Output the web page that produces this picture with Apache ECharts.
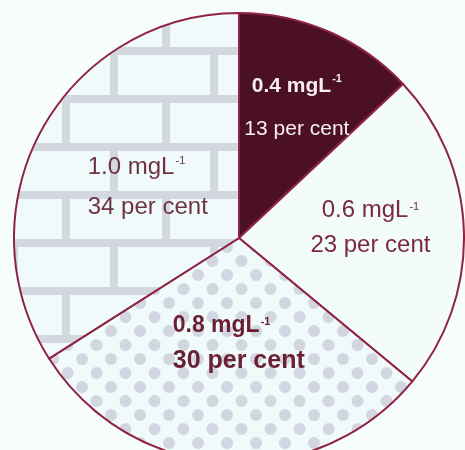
<!DOCTYPE html>
<html>
<head>
<meta charset="utf-8">
<script src="https://cdn.jsdelivr.net/npm/echarts@6/dist/echarts.min.js"></script>
<style>
  html, body { margin: 0; padding: 0; background: #f7fcfc; }
  #main { width: 465px; height: 450px; }
</style>
</head>
<body>
<div id="main"></div>
<script>
// slice data, clockwise from 12 o'clock
var doses = ['0.4', '0.6', '0.8', '1.0'];
var percents = [13, 23, 30, 34];
var unit = 'mgL';
var sup = '-1';

// brick fill tile
function brickTile() {
  var c = document.createElement('canvas');
  c.width = 100; c.height = 96;
  var g = c.getContext('2d');
  g.fillStyle = '#f0fafa';
  g.fillRect(0, 0, 100, 96);
  g.fillStyle = '#d3d7e0';
  g.fillRect(0, 47, 100, 8);
  g.fillRect(0, 95, 100, 1);
  g.fillRect(0, 0, 100, 7);
  g.fillRect(10, 55, 8, 40);
  g.fillRect(62, 7, 8, 40);
  return c;
}

// dotted fill tile
function dotTile() {
  var c = document.createElement('canvas');
  c.width = 29; c.height = 28;
  var g = c.getContext('2d');
  g.fillStyle = '#f0fafa';
  g.fillRect(0, 0, 29, 28);
  g.fillStyle = '#d2d6e0';
  var pts = [[24, 23], [9.5, 9]];
  for (var k = 0; k < pts.length; k++) {
    for (var i = -1; i <= 1; i++) {
      for (var j = -1; j <= 1; j++) {
        g.beginPath();
        g.arc(pts[k][0] + i * 29, pts[k][1] + j * 28, 6, 0, Math.PI * 2);
        g.fill();
      }
    }
  }
  return c;
}

var fills = [
  '#4b1122',
  '#f3fbfb',
  { image: dotTile(), repeat: 'repeat' },
  { image: brickTile(), repeat: 'repeat' }
];
var textColors = ['#f6eef0', '#7a2a3e', '#6a1f34', '#6c3442'];
var firstWeight = ['bold', 'normal', 'bold', 'normal'];
var secondWeight = ['normal', 'normal', 'bold', 'normal'];
var firstSize = [21, 24, 23, 24];
var secondSize = [21, 24, 25, 24];
var lineGap = [43, 35, 35, 40];
var leftAligned = [false, false, true, true];
var labelOffset = [[12, -24], [16, -6], [7, -10], [10, 5]];
var font = 'Liberation Sans';

var measureCtx = document.createElement('canvas').getContext('2d');
function textWidth(txt, weight, size) {
  measureCtx.font = weight + ' ' + size + 'px "' + font + '"';
  return measureCtx.measureText(txt).width;
}

var pieData = [];
for (var i = 0; i < doses.length; i++) {
  var line1 = doses[i] + ' ' + unit;
  var line2 = percents[i] + ' per cent';
  var padRight = 0;
  if (leftAligned[i]) {
    // pad the first line so both lines start at the same x
    var w1 = textWidth(line1, firstWeight[i], firstSize[i]);
    var ws = textWidth(sup, firstWeight[i], 11);
    var w2 = textWidth(line2, secondWeight[i], secondSize[i]);
    padRight = Math.max(0, w2 - w1 - ws - 1);
  }
  pieData.push({
    name: doses[i],
    value: percents[i],
    itemStyle: { color: fills[i] },
    label: {
      offset: labelOffset[i],
      formatter: '{a|' + line1 + '}{s|' + sup + '}\n{b|' + line2 + '}',
      rich: {
        a: { fontSize: firstSize[i], fontWeight: firstWeight[i], color: textColors[i], lineHeight: lineGap[i], fontFamily: font },
        s: {
          fontSize: 11, fontWeight: firstWeight[i], color: textColors[i], lineHeight: lineGap[i],
          verticalAlign: 'top', padding: [8, padRight, 0, 1], fontFamily: font
        },
        b: { fontSize: secondSize[i], fontWeight: secondWeight[i], color: textColors[i], lineHeight: lineGap[i], fontFamily: font }
      }
    }
  });
}

var myChart = echarts.init(document.getElementById('main'));
var option = {
  backgroundColor: '#f7fcfc',
  animation: false,
  series: [
    {
      type: 'pie',
      center: [239, 238],
      radius: 225,
      startAngle: 90,
      clockwise: true,
      avoidLabelOverlap: false,
      label: { show: true, position: 'inside' },
      labelLine: { show: false },
      itemStyle: { borderColor: '#8e2342', borderWidth: 2 },
      emphasis: { disabled: true },
      data: pieData
    }
  ]
};
myChart.setOption(option);
</script>
</body>
</html>
